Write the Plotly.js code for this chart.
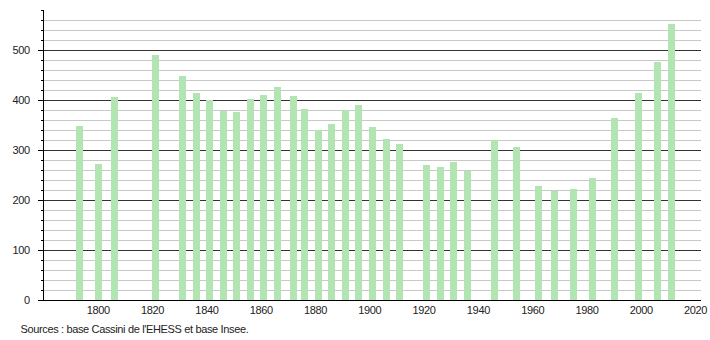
<!DOCTYPE html>
<html>
<head>
<meta charset="utf-8">
<script src="https://cdn.plot.ly/plotly-3.0.1.min.js"></script>
<style>html,body{margin:0;padding:0;background:#fff;}#chart{width:710px;height:340px;}#chart text{letter-spacing:-0.35px;}</style>
</head>
<body>
<div id="chart"></div>
<script>
const years = [1793,1800,1806,1821,1831,1836,1841,1846,1851,1856,1861,1866,1872,1876,1881,1886,1891,1896,1901,1906,1911,1921,1926,1931,1936,1946,1954,1962,1968,1975,1982,1990,1999,2006,2011];
const population = [348,272,406,490,448,414,400,379,376,402,410,427,408,382,340,352,380,390,346,322,312,270,266,276,258,320,306,228,218,222,245,364,414,476,552];
const xTickYears = [1800,1820,1840,1860,1880,1900,1920,1940,1960,1980,2000,2020];
const sourceText = "Sources : base Cassini de l'EHESS et base Insee.";

const W = 710, H = 340, L = 44, R = 9, T = 10, B = 40;
const plotW = W - L - R, plotH = H - T - B;

const trace = {
  type: 'bar',
  x: years,
  y: population,
  width: 2.6,
  marker: {color: '#b2e5b2', line: {width: 0}},
  hoverinfo: 'x+y'
};

const font = {family: '"Liberation Sans", Arial, sans-serif', size: 11, color: '#222'};

const layout = {
  width: W, height: H,
  margin: {l: L, r: R, t: T, b: B, pad: 0},
  paper_bgcolor: '#fff', plot_bgcolor: '#fff',
  showlegend: false,
  font: font,
  bargap: 0,
  xaxis: {
    range: [1780, 2022],
    tickmode: 'array', tickvals: xTickYears, ticktext: xTickYears.map(String),
    showgrid: false, zeroline: false,
    showline: true, linecolor: '#000', linewidth: 1,
    ticks: '', tickfont: font
  },
  yaxis: {
    range: [0, 580],
    tick0: 0, dtick: 100,
    showgrid: true, gridcolor: '#333', gridwidth: 1,
    zeroline: false,
    showline: true, linecolor: '#000', linewidth: 1,
    ticks: 'outside', ticklen: 5, tickcolor: '#000', tickwidth: 1,
    ticklabelstandoff: 6,
    tickfont: font,
    minor: {dtick: 20, showgrid: true, gridcolor: '#c8c8c8', gridwidth: 1, ticks: 'outside', ticklen: 2, tickcolor: '#000'}
  },
  annotations: [{
    text: sourceText,
    xref: 'paper', yref: 'paper',
    x: (10 - L) / plotW, y: -(329 - (T + plotH)) / plotH,
    xanchor: 'left', yanchor: 'middle',
    showarrow: false,
    font: font
  }]
};

Plotly.newPlot('chart', [trace], layout, {displayModeBar: false, staticPlot: true});
</script>
</body>
</html>
